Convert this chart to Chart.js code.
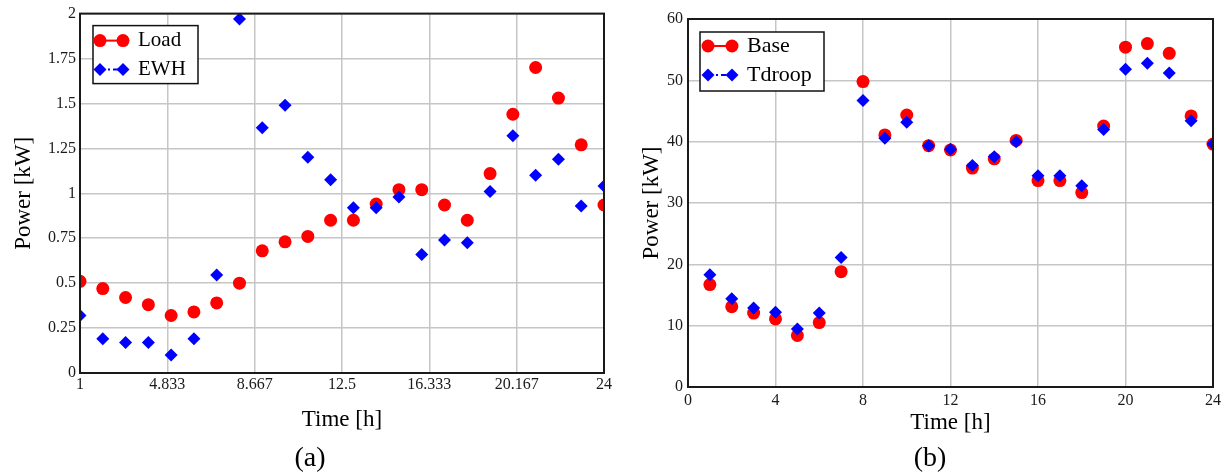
<!DOCTYPE html>
<html>
<head>
<meta charset="utf-8">
<script src="https://cdn.jsdelivr.net/npm/chart.js@4.4.1/dist/chart.umd.min.js"></script>
<style>
  html, body { margin: 0; padding: 0; background: #fff; }
  body { width: 1231px; height: 474px; position: relative; overflow: hidden; font-family: "Liberation Serif", serif; }
  .panel { position: absolute; top: 0; height: 474px; }
  .caption { position: absolute; top: 440px; width: 100px; text-align: center; font-size: 28px; line-height: 34px; color: #000; }
</style>
</head>
<body>
<div class="panel" style="left:0;width:615px"><canvas id="chart-a"></canvas></div>
<div class="panel" style="left:615px;width:616px"><canvas id="chart-b"></canvas></div>
<div class="caption" style="left:260px">(a)</div>
<div class="caption" style="left:880px">(b)</div>
<script>
const Chart = window.Chart;

// ── Data ───────────────────────────────────────────────────────
const hours    = [1, 2, 3, 4, 5, 6, 7, 8, 9, 10, 11, 12, 13, 14, 15, 16, 17, 18, 19, 20, 21, 22, 23, 24];
const loadKw   = [0.51, 0.47, 0.42, 0.38, 0.32, 0.34, 0.39, 0.50, 0.68, 0.73, 0.76, 0.85,
                  0.85, 0.94, 1.02, 1.02, 0.935, 0.85, 1.11, 1.44, 1.70, 1.53, 1.27, 0.935];
const ewhKw    = [0.32, 0.19, 0.17, 0.17, 0.10, 0.19, 0.545, 1.97, 1.365, 1.49, 1.20, 1.076,
                  0.92, 0.92, 0.98, 0.66, 0.74, 0.725, 1.01, 1.32, 1.10, 1.19, 0.93, 1.04];
const baseKw   = [16.7, 13.1, 12.05, 11.1, 8.4, 10.5, 18.8, 49.8, 41.1, 44.35, 39.35, 38.65,
                  35.7, 37.2, 40.2, 33.65, 33.65, 31.7, 42.55, 55.4, 56.0, 54.4, 44.2, 39.6];
const tdroopKw = [18.3, 14.4, 12.9, 12.2, 9.45, 12.05, 21.1, 46.7, 40.55, 43.15, 39.35, 38.75,
                  36.1, 37.55, 40.0, 34.45, 34.45, 32.8, 42.0, 51.8, 52.8, 51.2, 43.4, 39.6];

const xTicksA = [1, 4.833, 8.667, 12.5, 16.333, 20.167, 24];
const yTicksA = [0, 0.25, 0.5, 0.75, 1, 1.25, 1.5, 1.75, 2];
const xTicksB = [0, 4, 8, 12, 16, 20, 24];
const yTicksB = [0, 10, 20, 30, 40, 50, 60];

// ── Style ──────────────────────────────────────────────────────
const SERIF = '"Liberation Serif", "Times New Roman", serif';
const RED   = '#ff0000';
const BLUE  = '#0000ff';
const GRID  = '#c6c6c6';

const toPoints   = ys => hours.map((h, i) => ({ x: h, y: ys[i] }));
const fixedTicks = list => scale => { scale.ticks = list.map(v => ({ value: v })); };

// ── Plugins: plot frame + boxed legend inside the plot ─────────
const framePlugin = {
  id: 'frame',
  afterDatasetsDraw(chart) {
    const { ctx, chartArea: a } = chart;
    ctx.save();
    ctx.strokeStyle = '#1a1a1a';
    ctx.lineWidth = 2;
    ctx.strokeRect(a.left, a.top, a.right - a.left, a.bottom - a.top);
    ctx.restore();
  },
};

const boxLegendPlugin = {
  id: 'boxLegend',
  afterDraw(chart, args, opts) {
    const { ctx, chartArea: a } = chart;
    const x0 = a.left + opts.dx;
    const y0 = a.top + opts.dy;
    ctx.save();
    ctx.fillStyle = '#fff';
    ctx.fillRect(x0, y0, opts.w, opts.h);
    ctx.strokeStyle = '#111';
    ctx.lineWidth = 1.5;
    ctx.strokeRect(x0, y0, opts.w, opts.h);
    chart.data.datasets.forEach((ds, i) => {
      const y  = y0 + opts.rowTop + i * opts.rowGap;
      const m1 = x0 + opts.mark1;
      const m2 = x0 + opts.mark2;
      ctx.strokeStyle = ds.borderColor;
      ctx.lineWidth = 2;
      ctx.setLineDash(ds.borderDash || []);
      ctx.beginPath();
      ctx.moveTo(m1, y);
      ctx.lineTo(m2, y);
      ctx.stroke();
      ctx.setLineDash([]);
      ctx.fillStyle = ds.backgroundColor;
      for (const mx of [m1, m2]) {
        Chart.helpers.drawPoint(ctx, { pointStyle: ds.pointStyle, radius: ds.pointRadius, rotation: 0, borderWidth: 0 }, mx, y);
      }
      ctx.fillStyle = '#000';
      ctx.font = `${opts.fontSize}px ${SERIF}`;
      ctx.textBaseline = 'middle';
      ctx.textAlign = 'left';
      ctx.fillText(ds.label, x0 + opts.textX, y);
    });
    ctx.restore();
  },
};

// ── Chart builder ──────────────────────────────────────────────
function makeChart(id, cfg) {
  const tickFont  = { family: SERIF, size: 16 };
  const titleFont = { family: SERIF, size: 23 };
  return new Chart(document.getElementById(id), {
    type: 'scatter',
    data: { datasets: cfg.datasets },
    options: {
      responsive: true,
      maintainAspectRatio: false,
      animation: false,
      layout: { padding: cfg.padding },
      plugins: {
        legend: { display: false },
        tooltip: { enabled: false },
        boxLegend: cfg.legend,
      },
      scales: {
        x: {
          type: 'linear',
          min: cfg.xTicks[0],
          max: cfg.xTicks.at(-1),
          afterBuildTicks: fixedTicks(cfg.xTicks),
          afterFit: s => { s.height = cfg.xHeight; },
          ticks: { font: tickFont, color: '#1a1a1a', padding: cfg.xTickPad, maxRotation: 0, autoSkip: false, callback: v => String(v) },
          grid: { color: GRID, lineWidth: 1.5, drawTicks: false },
          border: { display: false },
          title: { display: true, text: 'Time [h]', font: titleFont, color: '#000', padding: { top: 0, bottom: cfg.xTitlePad } },
        },
        y: {
          type: 'linear',
          min: cfg.yTicks[0],
          max: cfg.yTicks.at(-1),
          afterBuildTicks: fixedTicks(cfg.yTicks),
          afterFit: s => { s.width = cfg.yWidth; },
          ticks: { font: tickFont, color: '#1a1a1a', padding: cfg.yTickPad, autoSkip: false, callback: v => String(v) },
          grid: { color: GRID, lineWidth: 1.5, drawTicks: false },
          border: { display: false },
          title: { display: true, text: 'Power [kW]', font: titleFont, color: '#000', padding: { top: cfg.yTitlePad, bottom: 0 } },
        },
      },
    },
    plugins: [framePlugin, boxLegendPlugin],
  });
}

const circleSet = (label, ys) => ({
  label, data: toPoints(ys), pointStyle: 'circle', pointRadius: 6.5, pointHoverRadius: 6.5,
  backgroundColor: RED, borderColor: RED, pointBorderWidth: 0, showLine: false, clip: 0, order: 2,
});
const diamondSet = (label, ys) => ({
  label, data: toPoints(ys), pointStyle: 'rectRot', pointRadius: 6.5, pointHoverRadius: 6.5,
  backgroundColor: BLUE, borderColor: BLUE, borderDash: [5, 3, 2, 3], pointBorderWidth: 0, showLine: false, clip: 0, order: 1,
});

makeChart('chart-a', {
  datasets: [circleSet('Load', loadKw), diamondSet('EWH', ewhKw)],
  xTicks: xTicksA, yTicks: yTicksA,
  padding: { left: 0, top: 13, right: 11, bottom: 0 },
  xHeight: 101, yWidth: 80, xTickPad: 2, yTickPad: 4, xTitlePad: 40, yTitlePad: 10,
  legend: { dx: 13, dy: 12, w: 105, h: 58, rowTop: 15, rowGap: 29, mark1: 7, mark2: 30, textX: 45, fontSize: 21 },
});

makeChart('chart-b', {
  datasets: [circleSet('Base', baseKw), diamondSet('Tdroop', tdroopKw)],
  xTicks: xTicksB, yTicks: yTicksB,
  padding: { left: 0, top: 19, right: 18, bottom: 0 },
  xHeight: 87, yWidth: 73, xTickPad: 4, yTickPad: 5, xTitlePad: 37, yTitlePad: 23,
  legend: { dx: 12, dy: 13, w: 124, h: 59, rowTop: 14, rowGap: 29, mark1: 8, mark2: 32, textX: 47, fontSize: 22 },
});
</script>
</body>
</html>
